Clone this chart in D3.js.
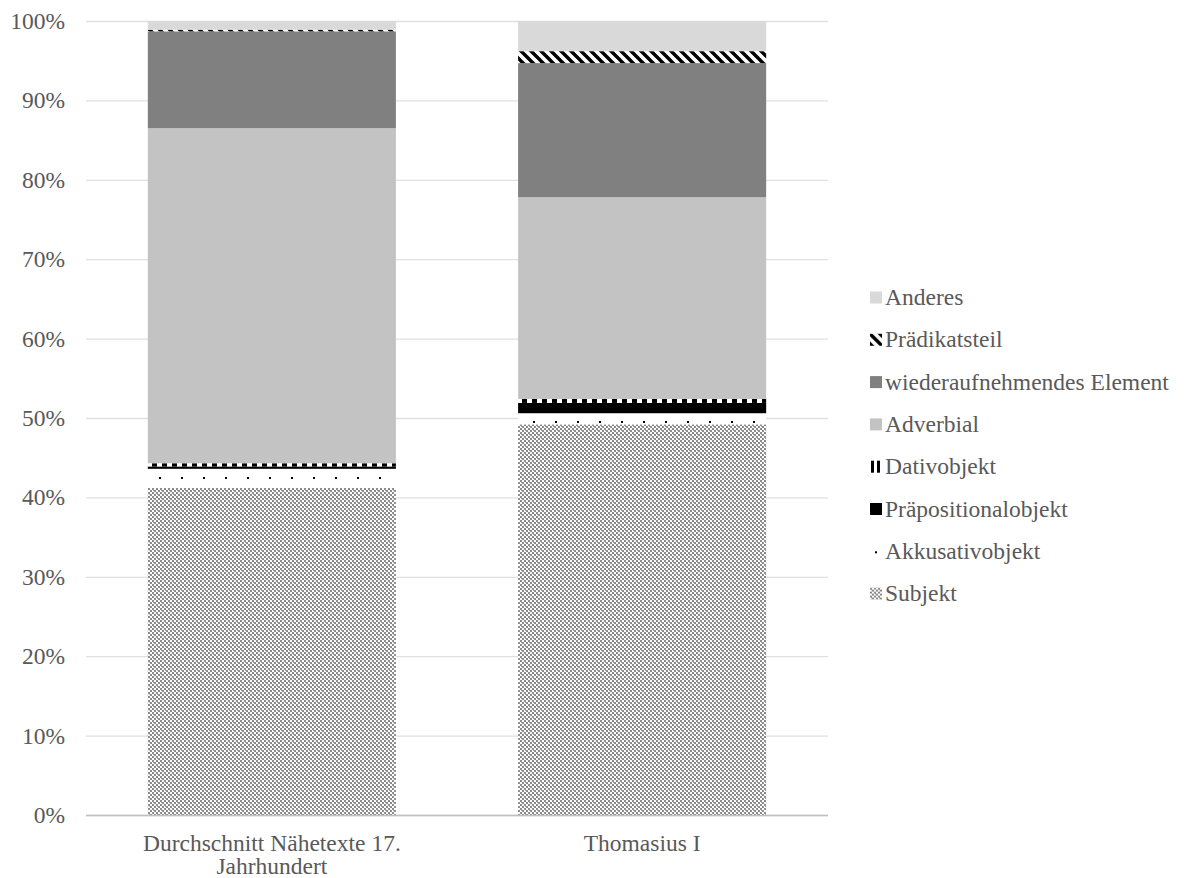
<!DOCTYPE html>
<html>
<head>
<meta charset="utf-8">
<script src="https://cdn.jsdelivr.net/npm/d3@7"></script>
<style>
  html, body { margin: 0; padding: 0; background: #fff; }
  svg { display: block; }
</style>
</head>
<body>
<svg id="chart" width="1187" height="878"></svg>
<script>
// ---- data ----
const categories = ["Durchschnitt Nähetexte 17. Jahrhundert", "Thomasius I"];
const categoryLines = [["Durchschnitt Nähetexte 17.", "Jahrhundert"], ["Thomasius I"]];
const seriesNames = ["Subjekt", "Akkusativobjekt", "Präpositionalobjekt", "Dativobjekt",
                     "Adverbial", "wiederaufnehmendes Element", "Prädikatsteil", "Anderes"];
const subjekt          = [41.2, 49.2];
const akkusativobjekt  = [2.4, 1.4];
const praepositional   = [0.3, 1.3];
const dativobjekt      = [0.4, 0.5];
const adverbial        = [42.2, 25.4];
const wiederaufnehmend = [12.2, 16.9];
const praedikatsteil   = [0.2, 1.5];
const anderes          = [1.1, 3.8];
const yTicks = [0, 10, 20, 30, 40, 50, 60, 70, 80, 90, 100];

const seriesValues = [subjekt, akkusativobjekt, praepositional, dativobjekt,
                      adverbial, wiederaufnehmend, praedikatsteil, anderes];

const rows = categories.map((c, i) => {
  const r = { category: c };
  seriesNames.forEach((s, k) => r[s] = seriesValues[k][i]);
  return r;
});

const FONT = "'Liberation Serif', Tinos, 'Times New Roman', serif";
const FS = "23.5px";
const TXT = "#595959";

const svg = d3.select("#chart");
const defs = svg.append("defs");

function pat(id, pw, ph, draw) {
  const p = defs.append("pattern").attr("id", id).attr("patternUnits", "userSpaceOnUse")
    .attr("width", pw).attr("height", ph);
  draw(p);
}
function subjektTile(p) {
  p.append("rect").attr("width", 8).attr("height", 8).attr("fill", "#fff");
  const cells = [[0,0],[4,0],[2,2],[6,2],[0,4],[4,4],[2,6],[6,6]];
  cells.forEach(([cx,cy]) => p.append("rect").attr("x", cx).attr("y", cy).attr("width", 2).attr("height", 2).attr("fill", "#8c8c8c"));
  [[1,2],[5,6]].forEach(([cx,cy]) => p.append("rect").attr("x", cx).attr("y", cy).attr("width", 1).attr("height", 1).attr("fill", "#b5b5b5"));
}
pat("p-subjekt", 8, 8, subjektTile);
pat("p-akk", 22, 28, p => {
  p.append("rect").attr("width", 22).attr("height", 28).attr("fill", "#fff");
  p.append("rect").attr("x", 5).attr("y", 1).attr("width", 2).attr("height", 2).attr("fill", "#000");
});
pat("p-akk-leg", 22, 28, p => {
  p.append("rect").attr("width", 22).attr("height", 28).attr("fill", "#fff");
  p.append("rect").attr("x", 5).attr("y", 6).attr("width", 2).attr("height", 2).attr("fill", "#000");
});
pat("p-dat", 10, 10, p => {
  p.append("rect").attr("width", 10).attr("height", 10).attr("fill", "#fff");
  p.append("rect").attr("x", 2).attr("y", 0).attr("width", 5).attr("height", 10).attr("fill", "#000");
});
pat("p-dat-leg", 6, 6, p => {
  p.append("rect").attr("width", 6).attr("height", 6).attr("fill", "#fff");
  p.append("rect").attr("x", 1).attr("y", 0).attr("width", 3).attr("height", 6).attr("fill", "#000");
});
pat("p-praed", 10, 10, p => {
  p.append("rect").attr("width", 10).attr("height", 10).attr("fill", "#fff");
  p.append("path").attr("d", "M-3,-3 L13,13 M-3,7 L3,13 M7,-3 L13,3").attr("stroke", "#000").attr("stroke-width", 3.4);
});

const fills = {
  "Subjekt": "url(#p-subjekt)",
  "Akkusativobjekt": "url(#p-akk)",
  "Präpositionalobjekt": "#000000",
  "Dativobjekt": "url(#p-dat)",
  "Adverbial": "#c3c3c3",
  "wiederaufnehmendes Element": "#808080",
  "Prädikatsteil": "url(#p-praed)",
  "Anderes": "#d9d9d9"
};
const legendFills = Object.assign({}, fills, {
  "Akkusativobjekt": "url(#p-akk-leg)",
  "Dativobjekt": "url(#p-dat-leg)"
});

const plotLeft = 86, plotRight = 828, plotTop = 21, plotBottom = 815;
const x = d3.scaleBand().domain(categories).range([plotLeft, plotRight]).paddingInner(0.33).paddingOuter(0.167);
const y = d3.scaleLinear().domain([0, 100]).range([plotBottom, plotTop]);

const grid = svg.append("g").attr("transform", `translate(${plotLeft},0)`)
  .call(d3.axisLeft(y).tickValues(yTicks).tickSize(-(plotRight - plotLeft)).tickFormat(""));
grid.select(".domain").remove();
grid.selectAll("line").attr("stroke", "#e0e0e0").attr("stroke-width", 1.3);

const yAxis = svg.append("g").attr("transform", `translate(${plotLeft},0)`)
  .call(d3.axisLeft(y).tickValues(yTicks).tickSize(0).tickPadding(21).tickFormat(d => d + "%"));
yAxis.attr("font-family", FONT).attr("font-size", FS);
yAxis.select(".domain").remove();
yAxis.selectAll("text").attr("fill", TXT);

const stack = d3.stack().keys(seriesNames)(rows);
svg.append("g").selectAll("g").data(stack).join("g")
  .attr("fill", d => fills[d.key])
  .selectAll("rect").data(d => d).join("rect")
  .attr("x", d => x(d.data.category))
  .attr("width", x.bandwidth())
  .attr("y", d => y(d[1]))
  .attr("height", d => y(d[0]) - y(d[1]));

svg.append("line").attr("x1", plotLeft).attr("x2", plotRight).attr("y1", plotBottom + 0.5).attr("y2", plotBottom + 0.5)
  .attr("stroke", "#bfbfbf").attr("stroke-width", 1.5);

const xl = svg.append("g").attr("font-family", FONT).attr("font-size", FS);
categories.forEach((c, i) => {
  const cx = x(c) + x.bandwidth() / 2;
  const t = xl.append("text").attr("x", cx).attr("y", 851)
    .attr("text-anchor", "middle").attr("fill", TXT);
  categoryLines[i].forEach((ln, j) => t.append("tspan").attr("x", cx)
    .attr("dy", j === 0 ? 0 : 23).text(ln));
});

const legendOrder = seriesNames.slice().reverse();
const lg = svg.append("g").attr("font-family", FONT).attr("font-size", FS);
legendOrder.forEach((s, i) => {
  const g = lg.append("g").attr("transform", `translate(870,${291.5 + i * 42.3})`);
  g.append("rect").attr("x", 0).attr("y", 0).attr("width", 12).attr("height", 12).attr("fill", legendFills[s]);
  g.append("text").attr("x", 15).attr("y", 13.5).attr("fill", TXT).text(s);
});
</script>
</body>
</html>
